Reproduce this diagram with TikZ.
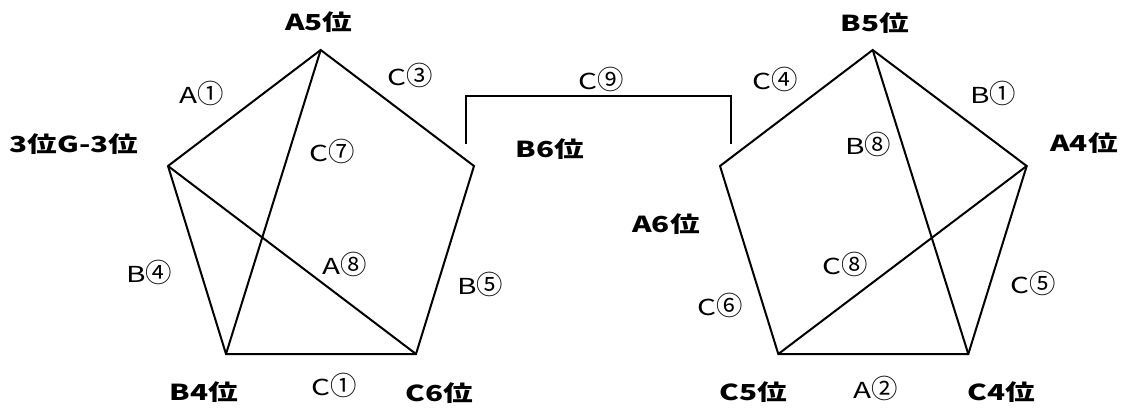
\documentclass[tikz,border=0pt]{standalone}
\usepackage{fontspec}
\newfontfamily\jpfont[FakeStretch=1.35]{Noto Sans CJK JP}
\newfontfamily\cn[Scale=1.2]{Noto Sans CJK JP}
\usetikzlibrary{positioning}

\begin{document}
\begin{tikzpicture}
[x=1pt,y=-1pt,
posname/.style ={font=\jpfont\bfseries\fontsize{22}{22}\selectfont, inner sep=0pt},
seat/.style ={font=\jpfont\fontsize{22}{22}\selectfont, inner sep=0pt},
side/.style ={draw, line width=2pt},
rail/.style ={draw, line width=2.8pt}]
\useasboundingbox (0,0) rectangle (1127,412);
% left pentagon corners
\coordinate (lTop) at (320.7,50);
\coordinate (lLeft) at (168,166);
\coordinate (lRight) at (474,166);
\coordinate (lBotL) at (226,354);
\coordinate (lBotR) at (416,354);
% right pentagon corners
\coordinate (rTop) at (872.7,50);
\coordinate (rLeft) at (720,166);
\coordinate (rRight) at (1026.7,166);
\coordinate (rBotL) at (778.3,354);
\coordinate (rBotR) at (968.3,354);
% bracket feet
\coordinate (railL) at (466,144);
\coordinate (railR) at (731,144);

% position names
\node [posname] (posA5) at (319,22) {A5位};
\node [posname] (posG3) at (74,144) {3位G-3位};
\node [posname] (posB4) at (204,392) {B4位};
\node [posname] (posC6) at (439,393) {C6位};
\node [posname] (posB6) at (550,149) {B6位};
\node [posname] (posB5) at (875,23) {B5位};
\node [posname] (posA4) at (1084,143) {A4位};
\node [posname] (posA6) at (666,224) {A6位};
\node [posname] (posC5) at (753,392) {C5位};
\node [posname] (posC4) at (1001,392) {C4位};
% seat labels
\node [seat] (sA1) at (202,93) {A{\cn ①}};
\node [seat] (sC3) at (410,75) {C{\cn ③}};
\node [seat] (sC7) at (332,151) {C{\cn ⑦}};
\node [seat] (sB4) at (149,272) {B{\cn ④}};
\node [seat] (sA8) at (345,264) {A{\cn ⑧}};
\node [seat] (sB5) at (480,284) {B{\cn ⑤}};
\node [seat] (sC1) at (334,385) {C{\cn ①}};
\node [seat] (sC9) at (601,79) {C{\cn ⑨}};
\node [seat] (sC4) at (775,79) {C{\cn ④}};
\node [seat] (sB1) at (993,93) {B{\cn ①}};
\node [seat] (sB8) at (868,144) {B{\cn ⑧}};
\node [seat] (sC8) at (845,264) {C{\cn ⑧}};
\node [seat] (sC5) at (1033,283) {C{\cn ⑤}};
\node [seat] (sC6) at (720,305) {C{\cn ⑥}};
\node [seat] (sA2) at (876,388) {A{\cn ②}};

\begin{scope}[every path/.style=side]
\path (lTop) -- (lRight) -- (lBotR) -- (lBotL) -- (lLeft) -- cycle;
\path (lTop) -- (lBotL);
\path (lLeft) -- (lBotR);
\path (rTop) -- (rRight) -- (rBotR) -- (rBotL) -- (rLeft) -- cycle;
\path (rTop) -- (rBotR);
\path (rRight) -- (rBotL);
\end{scope}
\path [rail] (railL) -- ++(0,-48) -| (railR);
\end{tikzpicture}
\end{document}
